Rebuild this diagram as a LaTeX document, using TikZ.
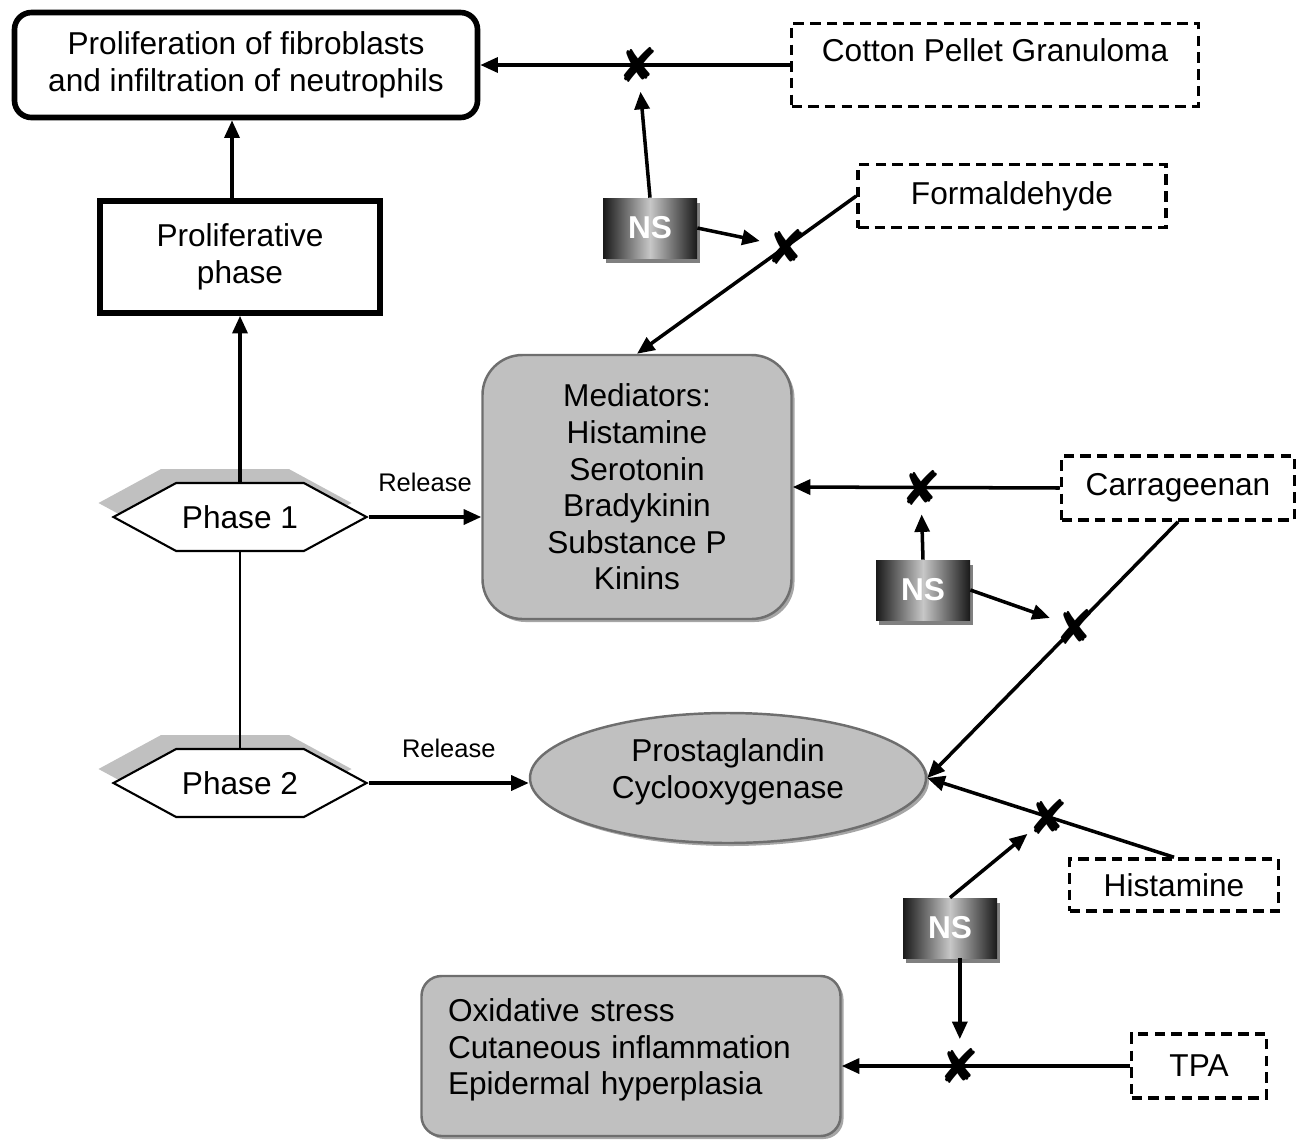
\documentclass[tikz,border=0pt]{standalone}
\usepackage{fontspec}
\setmainfont{Liberation Sans}
\newfontfamily\symfont{DejaVu Sans}
\usepackage{xcolor}
\usetikzlibrary{
	arrows.meta,
	calc,
	shadows,
	shapes.geometric,
	shapes.symbols
}
\definecolor{BoxGray}{RGB}{192,192,192}
\definecolor{EdgeGray}{RGB}{110,110,110}
\newlength{\pxu}
\setlength{\pxu}{0.02cm}
\newcommand{\mainsize}{\fontsize{18pt}{20.8pt}\selectfont}

\tikzset{
	arr/.style={line width=2pt, -{Triangle[length=10pt,width=8.5pt]}},
	topbox/.style={draw, line width=3.2pt, rounded corners=17\pxu, align=center, minimum width=463\pxu, minimum height=105\pxu},
	phasebox/.style={draw, line width=3.2pt, align=center, minimum width=280\pxu, minimum height=112\pxu},
	hexa/.style={signal, signal to=east and west, signal pointer angle=57, draw, fill=white, line width=1.2pt,
		minimum width=250\pxu, minimum height=68\pxu,
		drop shadow={shadow xshift=-15\pxu, shadow yshift=14\pxu, fill=BoxGray, opacity=1}},
	medbox/.style={draw=EdgeGray, fill=BoxGray, line width=1.4pt, align=center,
		drop shadow={shadow xshift=3\pxu, shadow yshift=-3\pxu, fill=black!35, opacity=1}},
	dashbox/.style={draw, line width=2pt, dash pattern=on 6pt off 3.5pt, minimum height=63\pxu},
	nsbox/.style={minimum width=94\pxu, minimum height=60\pxu, left color=black!90, right color=black!90,
		middle color=black!22, text=white, font=\mainsize\bfseries,
		drop shadow={shadow xshift=3\pxu, shadow yshift=-5\pxu, fill=black!50, opacity=1}},
	xmark/.style={circle, inner sep=0pt, minimum size=50\pxu, font=\symfont\fontsize{27pt}{27pt}\selectfont},
	relabel/.style={font=\fontsize{14.5pt}{16pt}\selectfont}
}

\begin{document}
\begin{tikzpicture}[x=0.02cm, y=-0.02cm, font=\mainsize]
	\useasboundingbox (0,0) rectangle (1302,1140);

	% left column
	\node[topbox] (top) at (246,65) {Proliferation of fibroblasts\\and infiltration of neutrophils};
	\node[phasebox] (prolif) at (240,257) {Proliferative\\phase};
	\node[hexa] (p1) at (240,517) {Phase 1};
	\node[hexa] (p2) at (240,783) {Phase 2};

	% mediators
	\node[medbox, rounded corners=40\pxu, minimum width=309\pxu, minimum height=264\pxu] (medi) at (637,487)
		{Mediators:\\Histamine\\Serotonin\\Bradykinin\\Substance P\\Kinins};
	\node[medbox, ellipse, minimum width=396\pxu, minimum height=130\pxu, text depth=19\pxu] (prosta) at (728,778)
		{Prostaglandin\\Cyclooxygenase};
	\node[medbox, rounded corners=20\pxu, align=left, text width=366\pxu, minimum width=419\pxu, minimum height=160\pxu,
		text depth=92\pxu] (oxid) at (631,1056)
		{Oxidative stress\\Cutaneous inflammation\\Epidermal hyperplasia};

	% inducing agents
	\node[dashbox, minimum width=407\pxu, minimum height=83\pxu, text depth=30\pxu] (cotton) at (995,65) {Cotton Pellet Granuloma};
	\node[dashbox, minimum width=308\pxu] (formal) at (1012,196) {Formaldehyde};
	\node[dashbox, minimum width=233\pxu, minimum height=64\pxu] (carra) at (1178,488) {Carrageenan};
	\node[dashbox, minimum width=209\pxu, minimum height=52\pxu] (hist) at (1174,885) {Histamine};
	\node[dashbox, minimum width=135\pxu, minimum height=64\pxu] (tpa) at (1199,1066) {TPA};

	\node[nsbox] (ns1) at (650,228) {NS};
	\node[nsbox] (ns2) at (923,590) {NS};
	\node[nsbox] (ns3) at (950,928) {NS};

	% blocked points
	\node[xmark] (x1) at ($(cotton.west)!0.49!(top.east)$) {✘};
	\node[xmark] (x2) at ($(formal.west)!0.32!(medi.north)$) {✘};
	\node[xmark] (x3) at ($(carra.west)!0.52!(medi.east)$) {✘};
	\node[xmark] (x4) at ($(carra.south)!0.41!(prosta.east)$) {✘};
	\node[xmark] (x5) at ($(hist.north)!0.51!(prosta.east)$) {✘};
	\node[xmark] (x6) at ($(tpa.west)!0.59!(tpa.west -| oxid.east)$) {✘};

	\draw[arr] ([xshift=-8\pxu]prolif.north) -- ([xshift=-8\pxu]prolif.north |- top.south);
	\draw[arr] (p1.north) -- (prolif.south);
	\draw[line width=1pt] (p1.south) -- (p2.north);
	\draw[arr] (p1.east) -- (p1.east -| medi.west) node[midway, above=10pt, relabel] {Release};
	\draw[arr] (p2.east) -- (p2.east -| prosta.west) node[midway, above=10pt, relabel] {Release};

	\draw[arr] (cotton.west) -- (top.east);
	\draw[arr] (formal.west) -- (medi.north);
	\draw[arr] (carra.west) -- (medi.east);
	\draw[arr] (carra.south) -- (prosta.east);
	\draw[arr] (hist.north) -- (prosta.east);
	\draw[arr] (tpa.west) -- (tpa.west -| oxid.east);

	\draw[arr] (ns1.north) -- (x1);
	\draw[arr] (ns1.east) -- (x2);
	\draw[arr] (ns2.north) -- (x3);
	\draw[arr] (ns2.east) -- (x4);
	\draw[arr] (ns3.north) -- (x5);
	\draw[arr] (x6 |- ns3.south) -- (x6);
\end{tikzpicture}
\end{document}
